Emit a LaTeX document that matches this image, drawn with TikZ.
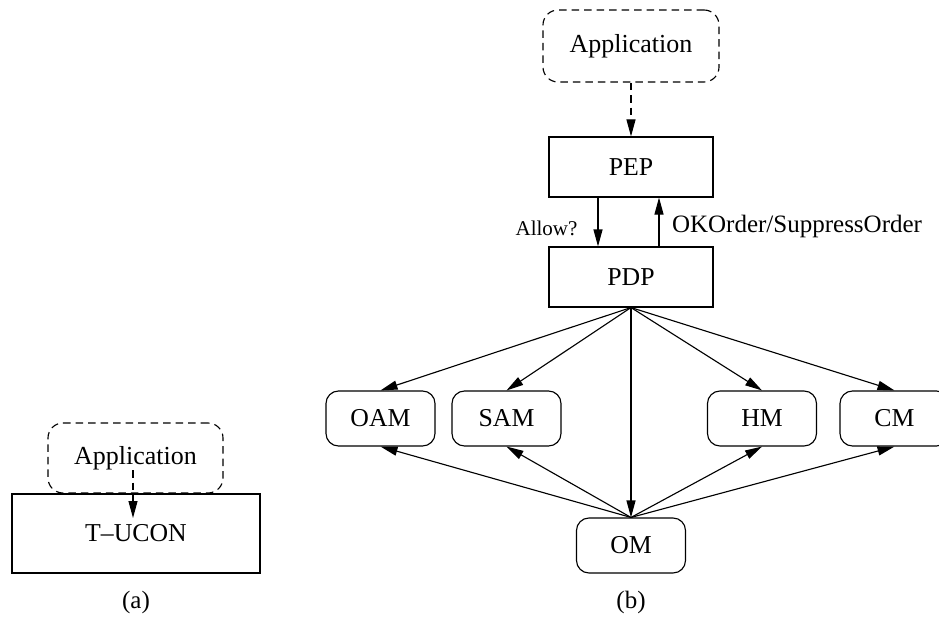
\documentclass[tikz,border=0pt]{standalone}
\usepackage{fontspec}
\setmainfont{Liberation Serif}
\usetikzlibrary{arrows.meta, positioning, calc}

\begin{document}
\begin{tikzpicture}[x=0.4pt, y=-0.4pt, line width=0.45pt,
    arr/.style={-{Triangle[length=6.8pt, width=3.6pt]}},
    dasharr/.style={arr, dash pattern=on 3pt off 2pt},
    box/.style={rectangle, draw, inner sep=0pt, minimum width=65.6pt, minimum height=24pt, font=\fontsize{10.3}{12}\selectfont},
    appbox/.style={rectangle, draw, dash pattern=on 3pt off 2pt, rounded corners=6pt, inner sep=0pt, minimum width=70.4pt, minimum height=28.8pt, font=\fontsize{10.4}{12}\selectfont},
    modbox/.style={rectangle, draw, rounded corners=5pt, inner sep=0pt, minimum width=43.6pt, minimum height=22pt, font=\fontsize{10.3}{12}\selectfont},
    captext/.style={font=\fontsize{10}{12}\selectfont}]
    \useasboundingbox (0,0) rectangle (939,619);

    % (a)
    \node[box, minimum width=99.2pt, minimum height=31.6pt] (tucon) at (136, 533.5) {T--UCON};
    \node[appbox, minimum width=70pt, minimum height=28pt] (appa) at (135.5, 458) {Application};
    \draw[dasharr] ($(appa.center)+(-2.5,12)$) -- ($(tucon.center)+(-3,-15.5)$);
    \node[captext] (capa) at (136, 602) {(a)};

    % (b)
    \node[appbox] (appb) at (631, 46) {Application};
    \node[box] (pep) at (631, 167) {PEP};
    \node[box] (pdp) at (631, 277) {PDP};
    \draw[dasharr] (appb) -- (pep);
    \draw[arr] ([xshift=-13.2pt]pep.south) -- node[pos=0.63, left=8pt, inner sep=0pt, font=\fontsize{8.4}{10}\selectfont] {Allow?} ([xshift=-13.2pt]pdp.north);
    \draw[arr] ([xshift=11.2pt]pdp.north) -- node[pos=0.41, right=5pt, inner sep=0pt, font=\fontsize{10}{12}\selectfont] {OKOrder/SuppressOrder} ([xshift=11.2pt]pep.south);

    % modules
    \node[modbox] (oam) at (380.5, 418.5) {OAM};
    \node[modbox] (sam) at (506.5, 418.5) {SAM};
    \node[modbox] (hm) at (762, 418.5) {HM};
    \node[modbox] (cm) at (894.5, 418.5) {CM};
    \node[modbox] (om) at (631, 545.5) {OM};

    \foreach \m in {oam, sam, hm, cm} {
        \draw[arr] (pdp.south) -- (\m.north);
        \draw[arr] (om.north) -- (\m.south);
    }
    \draw[arr] (pdp.south) -- (om.north);

    \node[captext] (capb) at (631, 602) {(b)};
\end{tikzpicture}
\end{document}
